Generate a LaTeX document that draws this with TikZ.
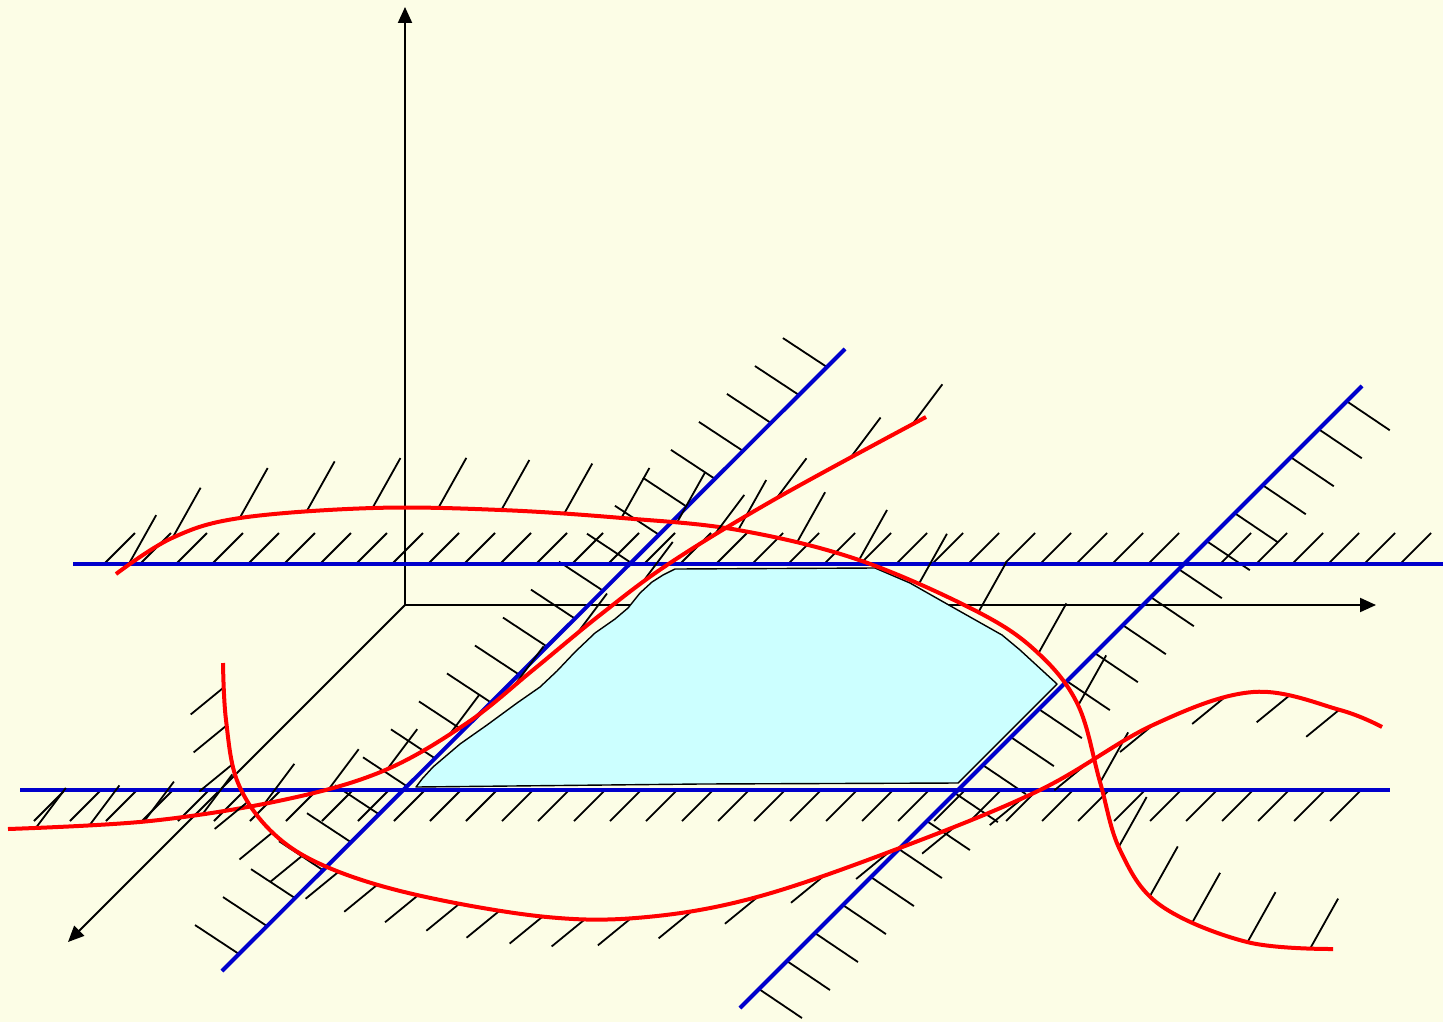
\documentclass[tikz,border=0pt]{standalone}
\usetikzlibrary{arrows.meta,decorations.markings,calc}
\definecolor{bgc}{RGB}{252,253,230}
\definecolor{bluel}{RGB}{0,0,204}
\definecolor{redl}{RGB}{255,0,0}
\definecolor{cyanf}{RGB}{204,255,255}
\newcommand\hatchAmark{\pgftransformresetnontranslations\draw[hatch] (0,0) -- (28,-50);}
\newcommand\hatchBmark{\pgftransformresetnontranslations\draw[hatch] (0,0) -- (30,-40);}
\newcommand\hatchCmark{\pgftransformresetnontranslations\draw[hatch] (0,0) -- (-33,27);}
\pgfkeys{/pgf/decoration/hma/.style={mark=at position #1 with {\hatchAmark}},
         /pgf/decoration/hmb/.style={mark=at position #1 with {\hatchBmark}},
         /pgf/decoration/hmc/.style={mark=at position #1 with {\hatchCmark}}}
\tikzset{
  hatch/.style={black, line width=0.9pt},
  axisline/.style={black, line width=1pt, -{Triangle[length=8pt,width=7pt]}},
  blueline/.style={bluel, line width=2pt},
  redcurve/.style={redl, line width=2pt},
  polyshape/.style={draw=black, line width=0.7pt, fill=cyanf, line join=round}
}
\begin{document}
\begin{tikzpicture}[x=0.5pt,y=-0.5pt]
\fill[bgc] (0,0) rectangle (1443,1022);
\useasboundingbox (0,0) rectangle (1443,1022);

% axes
\coordinate (O) at (405,605);
\coordinate (Ytip) at (405,7);
\coordinate (Xtip) at (1376,605);
\coordinate (Ztip) at (68,942);
\draw[axisline] (O) -- (Ytip);
\draw[axisline] (O) -- (Xtip);
\draw[axisline] (O) -- (Ztip);

% cyan region
\draw[polyshape] (416,787) -- (422,779) -- (433,767) -- (460,744) -- (487,725) -- (517,703)
  -- (540,687) -- (557,671) -- (575,652) -- (595,633) -- (615,619) -- (628,608)
  -- (640,593) -- (652,582) -- (663,575) -- (675,569) -- (875,568) -- (910,583)
  -- (947,604) -- (1002,635) -- (1020,650) -- (1057,684) -- (958,783) -- (700,784) -- cycle;

% blue lines and their hatches
\coordinate (H1a) at (73,564);   \coordinate (H1b) at (1443,564);
\coordinate (H2a) at (20,790);   \coordinate (H2b) at (1390,790);
\coordinate (L1) at (222,971);   \coordinate (L2) at (845,349);
\coordinate (R1) at (740,1008);  \coordinate (R2) at (1362,386);

\foreach \x in {104,140,...,1400} \draw[hatch] (\x,564) -- ++(31,-31);
\foreach \x in {65,101,...,1361} \draw[hatch] (\x,790) -- ++(-31,31);
\foreach \k in {0,...,21} \draw[hatch] ($(L1)!{0.0273+0.04494*\k}!(L2)$) -- ++(-44,-29);
\foreach \k in {0,...,21} \draw[hatch] ($(R1)!{0.0305+0.045*\k}!(R2)$) -- ++(43,29);

\draw[blueline] (H1a) -- (H1b);
\draw[blueline] (H2a) -- (H2b);
\draw[blueline] (L1) -- (L2);
\draw[blueline] (R1) -- (R2);

% red curve A (long S-curve)
\draw[redcurve, preaction={decorate, decoration={markings,
    hma/.list={0.0105,0.047,0.096,0.143,0.189,0.235,0.279,0.323,0.363,0.402,0.445,0.487,0.532,0.577,0.623,0.674,0.720,0.776,0.823,0.864,0.899,0.940,0.984}}}]
  plot[smooth, tension=0.6] coordinates {(116,574) (172,538) (240,518) (373,508)
    (501,510) (622,518) (738,530) (859,560) (978,612) (1038,653) (1078,705)
    (1100,782) (1120,850) (1160,905) (1247,942) (1333,949)};

% red curve B
\draw[redcurve, preaction={decorate, decoration={markings,
    hmb/.list={0.027,0.079,0.132,0.189,0.25,0.314,0.374,0.443,0.521,0.601,0.682,0.765,0.835,0.917,0.985}}}]
  plot[smooth, tension=0.6] coordinates {(8,829) (150,821) (283,800) (383,771) (467,723)
    (533,670) (600,615) (670,563) (777,498) (926,417)};

% red curve C
\draw[redcurve, preaction={decorate, decoration={markings,
    hmc/.list={0.018,0.046,0.075,0.105,0.134,0.162,0.191,0.221,0.252,0.283,0.313,0.345,0.376,0.410,0.455,0.505,0.556,0.607,0.659,0.713,0.767,0.823,0.880,0.928,0.966}}}]
  plot[smooth, tension=0.6] coordinates {(223,663) (226,720) (238,783) (273,833) (327,867)
    (417,895) (547,917) (647,917) (757,897) (897,849) (1040,790) (1153,725)
    (1253,692) (1340,710) (1382,727)};
\end{tikzpicture}
\end{document}
